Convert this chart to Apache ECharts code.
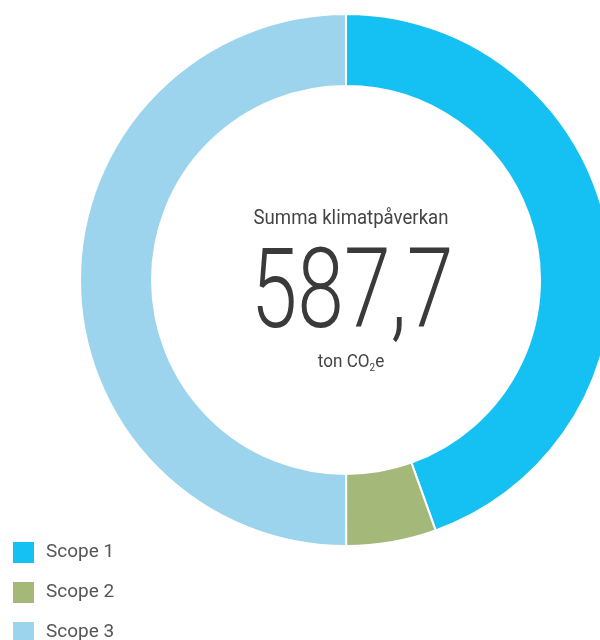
<!DOCTYPE html>
<html>

<head>
    <meta charset="utf-8">
    <title>Klimatpåverkan</title>
    <script src="https://cdn.jsdelivr.net/npm/echarts@6/dist/echarts.min.js"></script>
    <style>
        body { margin: 0; background: #fff; }
    </style>
</head>

<body>
    <div id="main" style="width: 600px;height: 640px;"></div>
    <script type="text/javascript">
    // ton CO2e per scope
    var scopes = ['Scope 1', 'Scope 2', 'Scope 3'];
    var values = [261.7, 32.1, 293.9];
    var colors = ['#15c1f2', '#a3b879', '#9bd4ec'];
    var totalText = '587,7';

    var myChart = echarts.init(document.getElementById('main'));
    var font = 'Roboto, "Liberation Sans", sans-serif';

    var option = {
        animation: false,
        backgroundColor: '#fff',
        color: colors,
        legend: {
            orient: 'vertical',
            left: 6,
            top: 535,
            height: 200,
            padding: 5,
            icon: 'rect',
            itemWidth: 23,
            itemHeight: 23,
            itemGap: 15,
            selectedMode: false,
            data: scopes,
            textStyle: {
                fontFamily: font,
                fontSize: 19,
                color: '#555',
                padding: [0, 0, 0, 6]
            }
        },
        graphic: [
            {
                type: 'text',
                x: 351, y: 219,
                scaleX: 0.93,
                style: {
                    text: 'Summa klimatpåverkan',
                    fontFamily: font,
                    fontSize: 20,
                    fill: '#444',
                    textAlign: 'center',
                    textVerticalAlign: 'middle'
                }
            },
            {
                type: 'text',
                x: 352, y: 299,
                scaleX: 0.75,
                style: {
                    text: totalText,
                    fontFamily: font,
                    fontWeight: 300,
                    fontSize: 112,
                    fill: '#3a3a3a',
                    textAlign: 'center',
                    textVerticalAlign: 'middle'
                }
            },
            {
                type: 'text',
                x: 351, y: 362,
                scaleX: 0.9,
                style: {
                    text: '{a|ton CO}{s|2}{a|e}',
                    fill: '#444',
                    textAlign: 'center',
                    textVerticalAlign: 'middle',
                    rich: {
                        a: { fontFamily: font, fontSize: 19, fill: '#444', color: '#444' },
                        s: { fontFamily: font, fontSize: 11, fill: '#444', color: '#444', padding: [12, 0, 0, 0] }
                    }
                }
            }
        ],
        series: [
            {
                type: 'pie',
                center: [346, 280],
                radius: [194, 266],
                startAngle: 90,
                clockwise: true,
                silent: true,
                label: { show: false },
                labelLine: { show: false },
                itemStyle: { borderColor: '#fff', borderWidth: 2 },
                data: scopes.map(function (s, i) {
                    return { name: s, value: values[i] };
                })
            }
        ]
    };

    myChart.setOption(option);
    </script>
</body>

</html>
